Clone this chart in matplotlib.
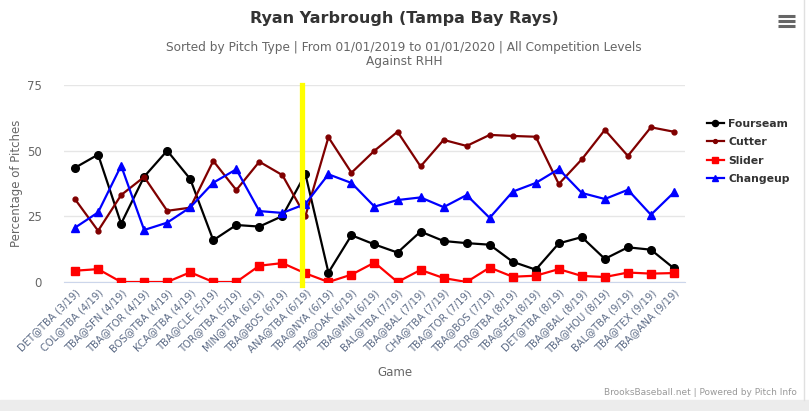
import matplotlib.pyplot as plt
from matplotlib.lines import Line2D
from matplotlib.patches import Rectangle

games = [
    "DET@TBA (3/19)", "COL@TBA (4/19)", "TBA@SFN (4/19)", "TBA@TOR (4/19)",
    "BOS@TBA (4/19)", "KCA@TBA (4/19)", "TBA@CLE (5/19)", "TOR@TBA (5/19)",
    "MIN@TBA (6/19)", "TBA@BOS (6/19)", "ANA@TBA (6/19)", "TBA@NYA (6/19)",
    "TBA@OAK (6/19)", "TBA@MIN (6/19)", "BAL@TBA (7/19)", "TBA@BAL (7/19)",
    "CHA@TBA (7/19)", "TBA@TOR (7/19)", "TBA@BOS (7/19)", "TOR@TBA (8/19)",
    "TBA@SEA (8/19)", "DET@TBA (8/19)", "TBA@BAL (8/19)", "TBA@HOU (8/19)",
    "BAL@TBA (9/19)", "TBA@TEX (9/19)", "TBA@ANA (9/19)",
]

fourseam = [43.5, 48.5, 22.2, 40.1, 50.0, 39.2, 15.9, 21.7, 21.1, 25.1, 41.1,
            3.6, 17.8, 14.3, 11.2, 19.2, 15.6, 14.8, 14.2, 7.7, 4.7, 14.7,
            17.1, 8.8, 13.2, 12.3, 5.2]
cutter = [31.5, 19.5, 33.1, 40.0, 27.1, 28.3, 46.1, 35.0, 45.8, 40.7, 25.1,
          55.1, 41.6, 50.0, 57.2, 44.0, 54.1, 51.8, 56.0, 55.6, 55.3, 37.3,
          46.7, 57.9, 48.0, 58.9, 57.2]
slider = [4.3, 4.9, 0, 0, 0, 3.7, 0, 0, 6.2, 7.2, 3.3, 0, 2.8, 7.4, 0, 4.6,
          1.5, 0, 5.5, 2.0, 2.4, 4.9, 2.3, 1.9, 3.6, 3.2, 3.4]
changeup = [20.7, 26.5, 44.3, 19.8, 22.6, 28.4, 37.8, 42.9, 27.0, 26.3, 29.7,
            41.0, 37.7, 28.7, 31.2, 32.2, 28.5, 33.1, 24.4, 34.4, 37.7, 43.0,
            33.9, 31.6, 35.1, 25.6, 34.1]

# yellow marker line (just left of ANA@TBA)
marker_x = 9.86

fig = plt.figure(figsize=(8.09, 4.11), dpi=100)
ax = fig.add_axes([64 / 809, 1 - 282 / 411, (685 - 64) / 809, (282 - 85) / 411])

x = list(range(len(games)))
series = [
    ax.plot(x, fourseam, color="black", lw=1.6, marker="o", ms=5.5, label="Fourseam", zorder=3)[0],
    ax.plot(x, cutter, color="#800000", lw=1.6, marker="o", ms=3.5, label="Cutter", zorder=3)[0],
    ax.plot(x, slider, color="#ff0000", lw=1.6, marker="s", ms=5.5, label="Slider", zorder=3)[0],
    ax.plot(x, changeup, color="#0000ff", lw=1.6, marker="^", ms=5.5, label="Changeup", zorder=3)[0],
]

ax.axvline(marker_x, ymin=-0.015, ymax=1.0, color="#ffff00", lw=3.8, zorder=4, clip_on=False)

ax.set_xlim(-0.48, len(games) - 1 + 0.48)
ax.set_ylim(0, 75)
ax.set_yticks([0, 25, 50, 75])
ax.grid(axis="y", color="#e6e6e6", lw=1)
ax.set_axisbelow(True)
for s in ["top", "right", "left"]:
    ax.spines[s].set_visible(False)
ax.spines["bottom"].set_color("#ccd6eb")
ax.tick_params(axis="y", length=0, pad=16, labelsize=8.5, labelcolor="#666666")
ax.tick_params(axis="x", length=0, pad=4)
ax.set_xticks(x)
ax.set_xticklabels(games, rotation=45, ha="right", va="top",
                   rotation_mode="anchor", fontsize=7.2, color="#5c6b86")

ax.set_ylabel("Percentage of Pitches", fontsize=8.5, color="#666666")
ax.yaxis.set_label_coords(-0.066, 0.5)
fig.text(395 / 809, 1 - 372 / 411, "Game", ha="center", va="center",
         fontsize=8.5, color="#666666")

fig.text(404 / 809, 1 - 18 / 411, "Ryan Yarbrough (Tampa Bay Rays)", ha="center",
         va="center", fontsize=11.5, fontweight="bold", color="#333333")
fig.text(404 / 809, 1 - 47 / 411,
         "Sorted by Pitch Type | From 01/01/2019 to 01/01/2020 | All Competition Levels",
         ha="center", va="center", fontsize=8.7, color="#666666")
fig.text(404 / 809, 1 - 61 / 411, "Against RHH", ha="center", va="center",
         fontsize=8.7, color="#666666")

handles = [Line2D([], [], color=l.get_color(), lw=1.6, marker=l.get_marker(),
                  ms=l.get_markersize() * 0.8) for l in series]
leg = fig.legend(handles, [l.get_label() for l in series],
                 loc="upper left", bbox_to_anchor=(697 / 809, 1 - 109 / 411),
                 frameon=False, handlelength=1.6, handletextpad=0.4,
                 labelspacing=0.78, prop={"weight": "bold", "size": 7.8})
for t in leg.get_texts():
    t.set_color("#333333")

# hamburger menu icon
for yy in [16, 21, 26]:
    fig.add_artist(Line2D([778 / 809, 795 / 809], [1 - yy / 411] * 2,
                          color="#666666", lw=2.2, solid_capstyle="butt"))

fig.text(797 / 809, 1 - 392 / 411, "BrooksBaseball.net | Powered by Pitch Info",
         ha="right", va="center", fontsize=6.5, color="#999999")

# page edge strips
fig.add_artist(Rectangle((0, 0), 1, 11 / 411, transform=fig.transFigure,
                         color="#ececec", zorder=0))
fig.add_artist(Line2D([804 / 809] * 2, [11 / 411, 1], color="#e0e0e0", lw=1))

fig.savefig("out.png", dpi=100)
